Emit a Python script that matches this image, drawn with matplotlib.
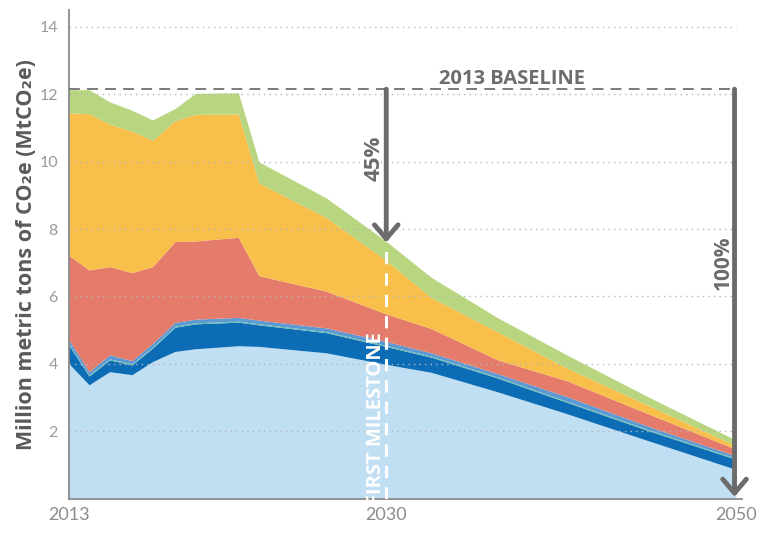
import numpy as np
import matplotlib
matplotlib.use("Agg")
import matplotlib.pyplot as plt

plt.rcParams['font.family'] = ['Lato', 'DejaVu Sans']
bold_font = ['Open Sans', 'DejaVu Sans']

#--------------------------------------------------------------------------------------------------------------------
# data (MtCO2e per sector, stacked bottom -> top)
years = [2013, 2014.1, 2015.2, 2016.4, 2017.5, 2018.7, 2019.8, 2022.1, 2023.2, 2026.8,
         2030, 2032.6, 2036.4, 2040.3, 2045, 2050]
light_blue = [4.00, 3.36, 3.75, 3.66, 4.05, 4.35, 4.43, 4.52, 4.50, 4.31, 3.97, 3.73, 3.15, 2.51, 1.70, 0.85]
dark_blue = [0.55, 0.26, 0.35, 0.29, 0.40, 0.72, 0.74, 0.70, 0.64, 0.60, 0.53, 0.45, 0.41, 0.34, 0.30, 0.30]
teal = [0.03] * 16
mid_blue = [0.13, 0.10, 0.12, 0.10, 0.11, 0.11, 0.11, 0.11, 0.11, 0.11, 0.12, 0.10, 0.10, 0.14, 0.10, 0.07]
salmon = [2.50, 3.02, 2.62, 2.61, 2.28, 2.40, 2.32, 2.38, 1.32, 1.09, 0.82, 0.72, 0.41, 0.47, 0.37, 0.20]
orange = [4.22, 4.64, 4.23, 4.20, 3.75, 3.59, 3.76, 3.66, 2.75, 2.19, 1.59, 0.92, 0.83, 0.38, 0.25, 0.10]
green = [0.69, 0.71, 0.66, 0.62, 0.60, 0.36, 0.62, 0.63, 0.63, 0.58, 0.57, 0.60, 0.42, 0.39, 0.25, 0.17]

baseline = 12.15
milestone_year = 2030
milestone_top = 7.6
x_ticks = [2013, 2030, 2050]
y_ticks = [2, 4, 6, 8, 10, 12, 14]

colors = ['#c1dff3', '#0c6db6', '#5fbfa5', '#5d9ad3', '#e57b6a', '#f9bf4b', '#b8d680']
grey = '#6b6b6b'


# the year axis of the original is not even: 2013-2030 is wider per year than 2030-2050
def fwd(x):
	x = np.asarray(x, dtype=float)
	return np.where(x < 2030, (x - 2013) * 319 / 17, 319 + (x - 2030) * 352 / 20)

def inv(p):
	p = np.asarray(p, dtype=float)
	return np.where(p < 319, 2013 + p * 17 / 319, 2030 + (p - 319) * 20 / 352)


fig = plt.figure(figsize=(7.73, 5.33), dpi=100)
ax = fig.add_axes([0.0893, 0.0647, 0.8700, 0.9165])
ax.set_xscale('function', functions=(fwd, inv))

ax.stackplot(years, light_blue, dark_blue, teal, mid_blue, salmon, orange, green,
             colors=colors, linewidth=0, zorder=1)

# dotted gridlines drawn over the areas
for v in y_ticks:
	ax.plot([2013, 2050], [v, v], linestyle=(0, (1, 3)), color='#b5b5b5', lw=1, zorder=2)

# baseline
ax.plot([2013, 2050], [baseline, baseline], linestyle=(0, (6, 4)), color='#6f6f6f', lw=1.3, zorder=3)
ax.text(2037.2, baseline + 0.0, '2013 BASELINE', ha='center', va='bottom', family=bold_font,
        fontsize=14.5, fontweight='bold', color='#6d6d6d', zorder=4)

# milestone dashed line + arrows
ax.plot([milestone_year, milestone_year], [0, milestone_top], linestyle=(0, (4, 3)),
        color='white', lw=2.2, zorder=3)
ax.text(2029.45, -0.2, 'FIRST MILESTONE', rotation=90, ha='center', va='bottom', family=bold_font,
        fontsize=14.5, fontweight='bold', color='white', zorder=4)

arrow = dict(arrowstyle='->,head_length=1.0,head_width=0.85', lw=3.5, color=grey,
             shrinkA=0, shrinkB=0)
ax.annotate('', xy=(milestone_year, milestone_top), xytext=(milestone_year, baseline),
            arrowprops=arrow, zorder=5)
ax.annotate('', xy=(2049.9, 0.05), xytext=(2049.9, baseline),
            arrowprops=arrow, zorder=5)
ax.text(2029.35, 10.1, '45%', rotation=90, ha='center', va='center', family=bold_font,
        fontsize=16, fontweight='bold', color=grey)
ax.text(2049.25, 7.0, '100%', rotation=90, ha='center', va='center', family=bold_font,
        fontsize=15, fontweight='bold', color=grey)

ax.set_xlim(2013, 2050.3)
ax.set_ylim(0, 14.5)
ax.set_xticks(x_ticks)
ax.set_xticklabels([str(t) for t in x_ticks])
ax.set_yticks(y_ticks)
ax.tick_params(axis='x', length=0, pad=6, labelsize=13, labelcolor='#8c8c8c')
ax.tick_params(axis='y', length=0, pad=8, labelsize=11.5, labelcolor='#9a9a9a')
for s in ['top', 'right']:
	ax.spines[s].set_visible(False)
for s in ['left', 'bottom']:
	ax.spines[s].set_color('#8a8a8a')
	ax.spines[s].set_linewidth(1.3)

ax.set_ylabel('Million metric tons of CO\u2082e (MtCO\u2082e)', fontsize=15.5, fontweight='bold',
              family=bold_font, color='#5a5a5a', labelpad=2)

fig.savefig('out.png', dpi=100)
